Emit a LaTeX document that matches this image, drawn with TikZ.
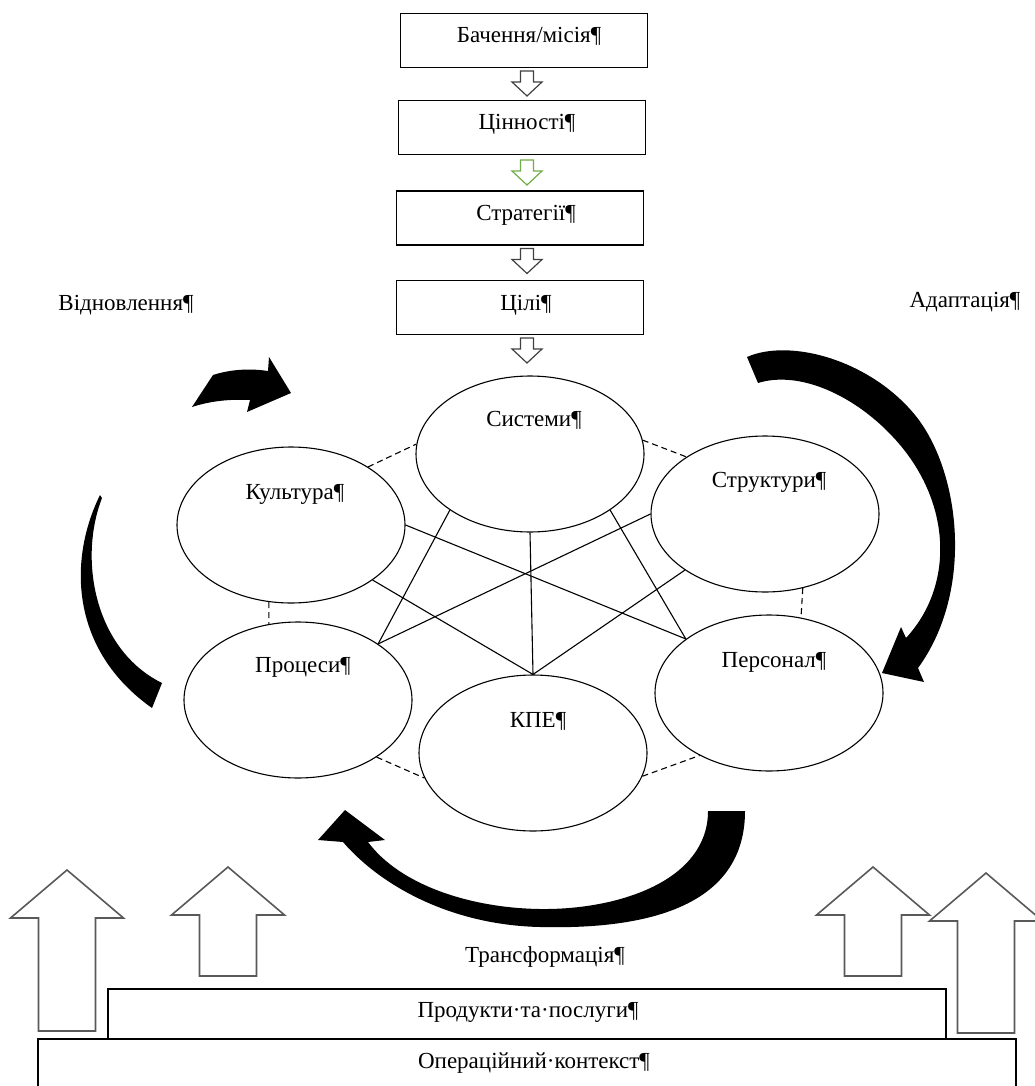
\documentclass[tikz,border=0pt]{standalone}
\usepackage{fontspec}
\setmainfont{Liberation Serif}
\usetikzlibrary{shapes.geometric}
\definecolor{leafgreen}{RGB}{112,173,71}
\newcommand\hollowup[3]{\draw[bigarrow] (#1,#2) -- (#1+56.5,#2+48) -- (#1+28.5,#2+48) -- (#1+28.5,#3) -- (#1-28.5,#3) -- (#1-28.5,#2+48) -- (#1-56.5,#2+48) -- cycle;}
\tikzset{downarr/.pic={\draw[hollow] (-6.5,-12.5) -- (6.5,-12.5) -- (6.5,-1.5) -- (15,-1.5) -- (0,12.5) -- (-15,-1.5) -- (-6.5,-1.5) -- cycle;}}
\begin{document}
\begin{tikzpicture}[x=1pt,y=-1pt,
  every node/.style={font=\fontsize{23}{27}\selectfont,inner sep=0pt,text height=16pt,text depth=5pt},
  topbox/.style={draw,line width=1.9pt,minimum width=247pt,minimum height=54pt,text depth=11pt},
  oval/.style={draw,ellipse,line width=1.1pt,minimum width=228pt,minimum height=156pt},
  link/.style={line width=1.1pt},
  dlink/.style={line width=1.1pt,dash pattern=on 6pt off 4pt},
  hollow/.style={fill=white,line width=1.2pt},
  bigarrow/.style={draw=black!65,fill=white,line width=1.6pt}]
\useasboundingbox (0,0) rectangle (1035,1086);
%boxes
\node[topbox] (b1) at (524,40.5) {\hspace*{10pt}Бачення/місія¶};
\node[topbox] (b2) at (522,127.5) {\hspace*{10pt}Цінності¶};
\node[topbox] (b3) at (520,218) {\hspace*{12pt}Стратегії¶};
\node[topbox] (b4) at (520,307.5) {\hspace*{12pt}Цілі¶};
\pic[color=black!75] at (527,83.5) {downarr};
\pic[color=leafgreen] at (527,172.5) {downarr};
\pic[color=black!75] at (527,261) {downarr};
\pic[color=black!75] at (527,350.5) {downarr};
%ellipses
\node[oval] (sys) at (530,454) {};
\node[oval] (cult) at (291,525) {};
\node[oval] (str) at (765,514) {};
\node[oval] (proc) at (298,700) {};
\node[oval] (pers) at (769,693) {};
\node[oval] (kpe) at (533,753) {};
\node (sysT) at ([shift={(4pt,33pt)}]sys.center) {Системи¶};
\node (cultT) at ([shift={(4pt,31pt)}]cult.center) {Культура¶};
\node (strT) at ([shift={(4pt,32pt)}]str.center) {Структури¶};
\node (procT) at ([shift={(5pt,33pt)}]proc.center) {Процеси¶};
\node (persT) at ([shift={(5pt,31pt)}]pers.center) {Персонал¶};
\node (kpeT) at ([shift={(5pt,31pt)}]kpe.center) {КПЕ¶};
\foreach \a/\b in {cult.east/pers.147,cult.-34/kpe.north,sys.-145/proc.35,sys.south/kpe.north,sys.-35/pers.147,str.west/proc.35,str.-145/kpe.north}
  \draw[link] (\a) -- (\b);
\foreach \a/\b in {cult.37/sys.175,sys.7/str.144,cult.-106/proc.111,str.-63/pers.67,proc.-36/kpe.-167,kpe.-12/pers.-138}
  \draw[dlink] (\a) -- (\b);
%cycle arrows
\fill (192,407) -- (213,375) .. controls (235,368) and (255,369) .. (268,371) -- (269,357) -- (291,393) -- (247,412)
  -- (250,400) .. controls (230,399) and (210,401) .. (192,407) -- cycle;
\fill (747,357) .. controls (790,338) and (870,360) .. (915,415) .. controls (960,470) and (975,590) .. (918,668)
  -- (924,682) -- (882,673) -- (901,627)
  -- (906,638) .. controls (955,585) and (952,500) .. (893,437) .. controls (855,396) and (800,370) .. (758,383) -- cycle;
\fill (745,811) .. controls (745,900) and (660,930) .. (540,927) .. controls (450,925) and (380,885) .. (343,842)
  -- (318,840) -- (345,810) -- (385,840)
  -- (368,842) .. controls (400,885) and (470,908) .. (540,909) .. controls (620,910) and (708,880) .. (708,811) -- cycle;
\fill (100,495) .. controls (68,560) and (70,650) .. (152,708) -- (162,683) .. controls (95,650) and (78,560) .. (102,498) -- cycle;
\node (renew) at (126,305) {Відновлення¶};
\node (adapt) at (965,302) {Адаптація¶};
\node (transf) at (545,957) {Трансформація¶};
%bottom
\hollowup{67}{870}{1031}
\hollowup{228}{867}{976}
\hollowup{873}{867}{976}
\hollowup{986}{873}{1033}
\draw[line width=1.6pt] (108,1039) rectangle (946,989);
\draw[line width=1.6pt] (38,1100) rectangle (1016,1039);
\node (prod) at (528,1012) {Продукти·та·послуги¶};
\node (oper) at (534,1063) {Операційний·контекст¶};
\end{tikzpicture}
\end{document}
